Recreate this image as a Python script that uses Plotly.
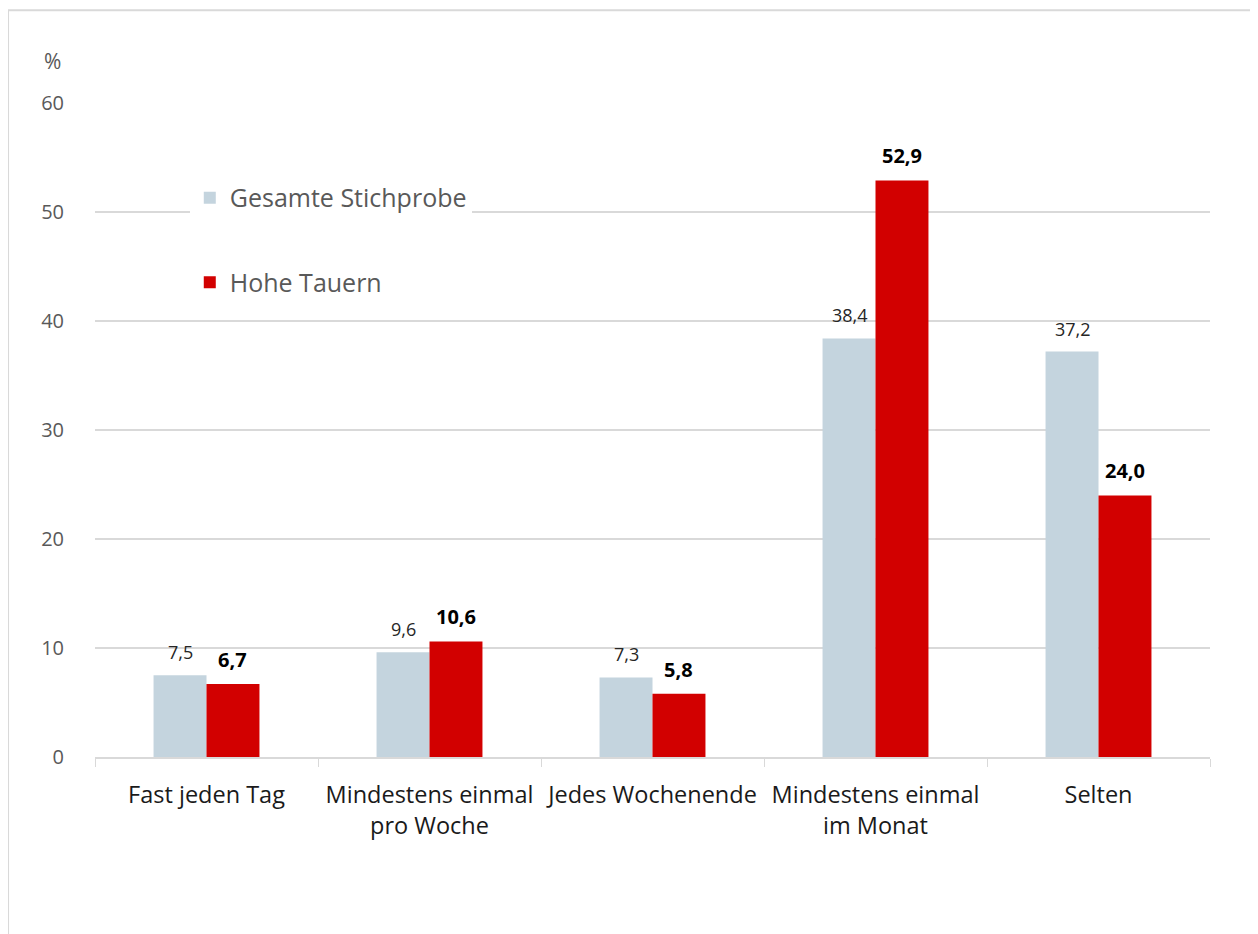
import plotly.graph_objects as go

categories = ["Fast jeden Tag", "Mindestens einmal<br>pro Woche", "Jedes Wochenende",
              "Mindestens einmal<br>im Monat", "Selten"]
gesamt = [7.5, 9.6, 7.3, 38.4, 37.2]
hohe_tauern = [6.7, 10.6, 5.8, 52.9, 24.0]
y_ticks = [0, 10, 20, 30, 40, 50, 60]

GRAY = "#c4d4de"
RED = "#d20000"
FONT = "Open Sans"

fig = go.Figure()
fig.add_trace(go.Bar(name="Gesamte Stichprobe", x=categories, y=gesamt,
                     marker=dict(color=GRAY, line=dict(width=0)),
                     legendgroup="a", hoverinfo="skip"))
fig.add_trace(go.Bar(name="Hohe Tauern", x=categories, y=hohe_tauern,
                     marker=dict(color=RED, line=dict(width=0)),
                     legendgroup="b", hoverinfo="skip"))

# value labels
for c, g, h in zip(categories, gesamt, hohe_tauern):
    fig.add_annotation(x=c, y=g, text=f"{g:.1f}".replace(".", ","), showarrow=False,
                       xshift=-26, yshift=9, yanchor="bottom",
                       font=dict(family=FONT, size=18, color="#262626"))
    fig.add_annotation(x=c, y=h, text=f"<b>{h:.1f}</b>".replace(".", ","), showarrow=False,
                       xshift=26, yshift=9, yanchor="bottom",
                       font=dict(family=FONT, size=20, color="#000000"))

fig.add_annotation(xref="paper", yref="paper", x=-0.0287, y=1.064, text="%",
                   showarrow=False, xanchor="right", yanchor="middle",
                   font=dict(family=FONT, size=21, color="#595959"))

# outer frame
fig.add_shape(type="rect", xref="paper", yref="paper",
              x0=-0.078, x1=1.2, y0=-0.5, y1=1.142,
              line=dict(color="#d9d9d9", width=2), layer="below")

fig.update_layout(
    width=1250, height=926,
    margin=dict(l=87, r=48, t=95, b=177),
    plot_bgcolor="white", paper_bgcolor="white",
    barmode="group", bargap=0.525, bargroupgap=0,
    font=dict(family=FONT, color="#595959"),
    legend=dict(x=0.085, y=0.89, xanchor="left", yanchor="top",
                bgcolor="white", borderwidth=0, tracegroupgap=49,
                font=dict(family=FONT, size=25, color="#595959")),
    xaxis=dict(showline=True, linecolor="#d9d9d9", linewidth=1.5,
               ticks="outside", tickson="boundaries", ticklen=8, tickcolor="#d9d9d9",
               ticklabelstandoff=16, tickangle=0, automargin=False,
               tickfont=dict(family=FONT, size=23.5, color="#1a1a1a")),
    yaxis=dict(range=[0, 60], tickvals=y_ticks, showgrid=True, gridcolor="#d9d9d9",
               gridwidth=1.5, zeroline=False, showline=False, ticks="",
               ticklabelstandoff=30, automargin=False,
               tickfont=dict(family=FONT, size=20, color="#595959")),
)

fig.write_html("out.html")
